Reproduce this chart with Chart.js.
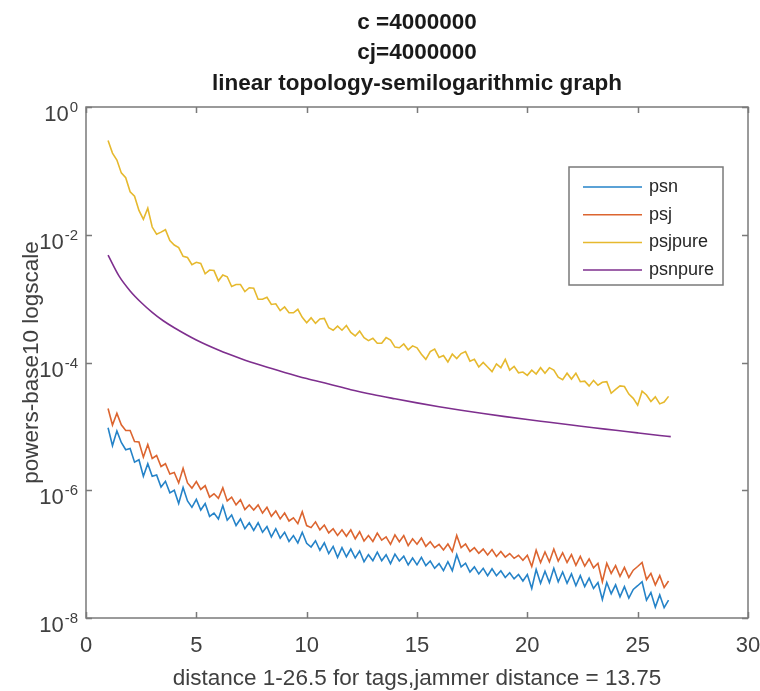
<!DOCTYPE html>
<html>
<head>
<meta charset="utf-8">
<title>linear topology-semilogarithmic graph</title>
<script src="https://cdn.jsdelivr.net/npm/chart.js@4.4.1/dist/chart.umd.min.js"></script>
<style>
  body { margin: 0; background: #fff; }
  canvas { display: block; }
</style>
</head>
<body>
<canvas id="myChart" width="760" height="691"></canvas>
<script>
// distances of the tags (x of the noisy series)
var distances = [
  1, 1.2, 1.4, 1.6, 1.8, 2, 2.2, 2.4, 2.6, 2.8,
  3, 3.2, 3.4, 3.6, 3.8, 4, 4.2, 4.4, 4.6, 4.8,
  5, 5.2, 5.4, 5.6, 5.8, 6, 6.2, 6.4, 6.6, 6.8,
  7, 7.2, 7.4, 7.6, 7.8, 8, 8.2, 8.4, 8.6, 8.8,
  9, 9.2, 9.4, 9.6, 9.8, 10, 10.2, 10.4, 10.6, 10.8,
  11, 11.2, 11.4, 11.6, 11.8, 12, 12.2, 12.4, 12.6, 12.8,
  13, 13.2, 13.4, 13.6, 13.8, 14, 14.2, 14.4, 14.6, 14.8,
  15, 15.2, 15.4, 15.6, 15.8, 16, 16.2, 16.4, 16.6, 16.8,
  17, 17.2, 17.4, 17.6, 17.8, 18, 18.2, 18.4, 18.6, 18.8,
  19, 19.2, 19.4, 19.6, 19.8, 20, 20.2, 20.4, 20.6, 20.8,
  21, 21.2, 21.4, 21.6, 21.8, 22, 22.2, 22.4, 22.6, 22.8,
  23, 23.2, 23.4, 23.6, 23.8, 24, 24.2, 24.4, 24.6, 24.8,
  25, 25.2, 25.4, 25.6, 25.8, 26, 26.2, 26.4
];

var psn = [
  9.5e-6, 5.0e-6, 8.5e-6, 5.6e-6, 4.3e-6, 4.5e-6, 2.75e-6, 3.0e-6, 1.66e-6, 2.6e-6,
  1.66e-6, 1.74e-6, 1.12e-6, 1.38e-6, 9.1e-7, 1.0e-6, 6.2e-7, 1.1e-6, 6.8e-7, 5.4e-7,
  7.2e-7, 4.9e-7, 6.2e-7, 3.9e-7, 4.4e-7, 3.55e-7, 5.75e-7, 3.4e-7, 4.1e-7, 2.8e-7,
  3.55e-7, 2.5e-7, 3.1e-7, 2.35e-7, 3.1e-7, 2.2e-7, 2.7e-7, 1.86e-7, 2.5e-7, 1.78e-7,
  2.2e-7, 1.58e-7, 1.95e-7, 1.5e-7, 2.2e-7, 1.48e-7, 1.29e-7, 1.62e-7, 1.15e-7, 1.5e-7,
  1.02e-7, 1.32e-7, 8.9e-8, 1.26e-7, 9.1e-8, 1.2e-7, 8.7e-8, 1.12e-7, 7.6e-8, 9.8e-8,
  7.9e-8, 1.07e-7, 7.9e-8, 9.8e-8, 7.1e-8, 1.0e-7, 7.8e-8, 9.3e-8, 6.8e-8, 8.7e-8,
  6.8e-8, 8.9e-8, 6.6e-8, 7.8e-8, 6.0e-8, 7.1e-8, 5.5e-8, 7.6e-8, 5.5e-8, 9.8e-8,
  6.3e-8, 7.2e-8, 5.25e-8, 6.3e-8, 4.9e-8, 6.0e-8, 4.6e-8, 5.9e-8, 4.6e-8, 5.5e-8,
  4.3e-8, 5.1e-8, 4.1e-8, 4.8e-8, 3.8e-8, 4.8e-8, 2.9e-8, 5.75e-8, 3.5e-8, 5.4e-8,
  3.6e-8, 6.0e-8, 3.7e-8, 5.25e-8, 3.5e-8, 4.9e-8, 3.2e-8, 4.6e-8, 3.1e-8, 4.2e-8,
  2.9e-8, 3.6e-8, 1.95e-8, 3.6e-8, 2.4e-8, 3.3e-8, 2.15e-8, 3.1e-8, 2.05e-8, 2.8e-8,
  3.2e-8, 3.7e-8, 1.9e-8, 2.5e-8, 1.48e-8, 2.3e-8, 1.45e-8, 1.9e-8
];

var psj = [
  1.9e-5, 1.05e-5, 1.6e-5, 1.06e-5, 8.6e-6, 8.6e-6, 5.8e-6, 5.7e-6, 3.3e-6, 5.2e-6,
  3.15e-6, 3.5e-6, 2.35e-6, 2.6e-6, 1.8e-6, 1.9e-6, 1.3e-6, 2.2e-6, 1.3e-6, 1.08e-6,
  1.37e-6, 1.03e-6, 1.18e-6, 7.8e-7, 8.8e-7, 7.5e-7, 1.09e-6, 6.8e-7, 7.8e-7, 5.9e-7,
  7.1e-7, 5.0e-7, 5.9e-7, 4.9e-7, 5.9e-7, 4.4e-7, 5.4e-7, 3.9e-7, 4.75e-7, 3.56e-7,
  4.4e-7, 3.3e-7, 3.7e-7, 3.0e-7, 4.6e-7, 2.8e-7, 2.6e-7, 3.2e-7, 2.4e-7, 2.85e-7,
  2.15e-7, 2.5e-7, 1.96e-7, 2.4e-7, 1.9e-7, 2.4e-7, 1.74e-7, 2.24e-7, 1.6e-7, 1.96e-7,
  1.58e-7, 2.14e-7, 1.66e-7, 1.86e-7, 1.42e-7, 2.0e-7, 1.56e-7, 1.95e-7, 1.36e-7, 1.74e-7,
  1.43e-7, 1.78e-7, 1.32e-7, 1.56e-7, 1.26e-7, 1.42e-7, 1.16e-7, 1.44e-7, 1.1e-7, 1.96e-7,
  1.26e-7, 1.44e-7, 1.1e-7, 1.26e-7, 1.03e-7, 1.2e-7, 9.7e-8, 1.18e-7, 9.2e-8, 1.1e-7,
  9.0e-8, 1.02e-7, 8.6e-8, 9.6e-8, 8.0e-8, 9.6e-8, 6.4e-8, 1.15e-7, 7.4e-8, 1.08e-7,
  7.6e-8, 1.2e-7, 7.8e-8, 1.05e-7, 7.4e-8, 9.8e-8, 6.7e-8, 9.2e-8, 6.5e-8, 8.4e-8,
  6.1e-8, 7.2e-8, 3.7e-8, 7.2e-8, 5.0e-8, 6.6e-8, 4.5e-8, 6.2e-8, 4.3e-8, 5.6e-8,
  6.4e-8, 7.4e-8, 4.0e-8, 5.0e-8, 3.3e-8, 4.6e-8, 3.0e-8, 3.8e-8
];

var psjpure = [
  0.30, 0.19, 0.148, 0.093, 0.078, 0.047, 0.040, 0.024, 0.0174, 0.026,
  0.0132, 0.0102, 0.011, 0.012, 0.0081, 0.0069, 0.0063, 0.0046, 0.0044, 0.0034,
  0.0037, 0.00355, 0.00245, 0.0028, 0.00275, 0.0019, 0.00235, 0.0022, 0.00155, 0.00166,
  0.00166, 0.00129, 0.00148, 0.00145, 0.00098, 0.00098, 0.00105, 0.00081, 0.00083, 0.00065,
  0.00074, 0.0006, 0.0006, 0.00068, 0.00051, 0.00042, 0.0005, 0.00041, 0.00048, 0.00049,
  0.00035, 0.00032, 0.00037, 0.00032, 0.00038, 0.000295, 0.00026, 0.00031, 0.000245, 0.00022,
  0.00024, 0.0002, 0.0002, 0.000245, 0.000224, 0.000174, 0.00017, 0.000195, 0.000158, 0.000182,
  0.00017, 0.000135, 0.000112, 0.000148, 0.000162, 0.00012, 0.000129, 0.000102, 0.000135, 0.000115,
  0.000138, 0.000148, 0.000105, 0.000112, 8.5e-5, 1.0e-4, 8.5e-5, 7.2e-5, 9.5e-5, 8.3e-5,
  1.12e-4, 7.6e-5, 8.7e-5, 6.9e-5, 7.1e-5, 6.3e-5, 7.6e-5, 6.6e-5, 8.3e-5, 6.8e-5,
  8.3e-5, 7.6e-5, 5.9e-5, 5.4e-5, 6.8e-5, 5.5e-5, 6.8e-5, 5.0e-5, 5.1e-5, 4.3e-5,
  5.25e-5, 4.4e-5, 4.9e-5, 5.0e-5, 3.3e-5, 3.8e-5, 4.3e-5, 4.2e-5, 3.2e-5, 2.75e-5,
  2.15e-5, 3.55e-5, 3.1e-5, 2.45e-5, 2.9e-5, 2.25e-5, 2.4e-5, 2.95e-5
];

// smooth curve, read at fewer distances
var pureDistances = [1, 1.5, 2, 2.5, 3, 3.5, 4, 5, 6, 7, 8, 9, 10, 11, 12, 13, 14, 15,
  16, 17, 18, 19, 20, 21, 22, 23, 24, 25, 26, 26.5];
var psnpure = [4.8e-3, 2.25e-3, 1.32e-3, 8.7e-4, 6.1e-4, 4.5e-4, 3.5e-4, 2.25e-4, 1.57e-4,
  1.16e-4, 8.9e-5, 7.0e-5, 5.6e-5, 4.6e-5, 3.75e-5, 3.15e-5, 2.7e-5, 2.33e-5, 2.03e-5,
  1.79e-5, 1.59e-5, 1.42e-5, 1.28e-5, 1.16e-5, 1.05e-5, 9.5e-6, 8.7e-6, 7.9e-6, 7.2e-6, 6.9e-6];

var xTicks = [0, 5, 10, 15, 20, 25, 30];
var xTickLabels = ['0', '5', '10', '15', '20', '25', '30'];
var yTicks = [1, 1e-2, 1e-4, 1e-6, 1e-8];
var yTickExps = ['0', '-2', '-4', '-6', '-8'];

var titleLines = ['c =4000000', 'cj=4000000', 'linear topology-semilogarithmic graph'];
var xLabel = 'distance 1-26.5 for tags,jammer distance = 13.75';
var yLabel = 'powers-base10 logscale';

var FONT = '"Liberation Sans", Arial, Helvetica, sans-serif';
var AXIS_COLOR = '#7a7a7a';

function pts(xs, ys) {
  return xs.map(function (d, i) { return { x: d, y: ys[i] }; });
}

// MATLAB-like box, inward ticks, labels, titles and legend
var matlabAxes = {
  id: 'matlabAxes',
  afterDraw: function (chart) {
    var ctx = chart.ctx;
    var a = chart.chartArea;
    var x = chart.scales.x;
    var y = chart.scales.y;
    ctx.save();

    ctx.strokeStyle = AXIS_COLOR;
    ctx.lineWidth = 1.5;
    ctx.strokeRect(a.left, a.top, a.right - a.left, a.bottom - a.top);

    ctx.beginPath();
    xTicks.forEach(function (v) {
      var px = Math.round(x.getPixelForValue(v)) + 0.5;
      ctx.moveTo(px, a.bottom); ctx.lineTo(px, a.bottom - 6);
      ctx.moveTo(px, a.top); ctx.lineTo(px, a.top + 6);
    });
    yTicks.forEach(function (v) {
      var py = Math.round(y.getPixelForValue(v)) + 0.5;
      ctx.moveTo(a.left, py); ctx.lineTo(a.left + 6, py);
      ctx.moveTo(a.right, py); ctx.lineTo(a.right - 6, py);
    });
    ctx.stroke();

    // x tick labels
    ctx.fillStyle = '#404040';
    ctx.font = '22px ' + FONT;
    ctx.textAlign = 'center';
    ctx.textBaseline = 'alphabetic';
    xTicks.forEach(function (v, i) {
      ctx.fillText(xTickLabels[i], x.getPixelForValue(v), a.bottom + 34);
    });

    // y tick labels: 10 with a raised exponent
    yTicks.forEach(function (v, i) {
      var py = y.getPixelForValue(v);
      ctx.textAlign = 'right';
      ctx.font = '15px ' + FONT;
      ctx.fillText(yTickExps[i], a.left - 8, py + 5);
      var w = ctx.measureText(yTickExps[i]).width;
      ctx.font = '22px ' + FONT;
      ctx.fillText('10', a.left - 8 - w - 1, py + 14);
    });

    // axis labels
    ctx.textAlign = 'center';
    ctx.font = '22.5px ' + FONT;
    ctx.fillText(xLabel, (a.left + a.right) / 2, 685);
    ctx.save();
    ctx.translate(38, (a.top + a.bottom) / 2);
    ctx.rotate(-Math.PI / 2);
    ctx.fillText(yLabel, 0, 0);
    ctx.restore();

    // title
    ctx.fillStyle = '#1a1a1a';
    ctx.font = 'bold 22.5px ' + FONT;
    var base = [29, 59, 90];
    titleLines.forEach(function (t, i) {
      ctx.fillText(t, (a.left + a.right) / 2, base[i]);
    });

    // legend
    var lx = 569, ly = 167, lw = 154, lh = 118;
    ctx.fillStyle = '#ffffff';
    ctx.fillRect(lx, ly, lw, lh);
    ctx.strokeStyle = AXIS_COLOR;
    ctx.lineWidth = 1.5;
    ctx.strokeRect(lx, ly, lw, lh);
    ctx.font = '18px ' + FONT;
    ctx.textAlign = 'left';
    ctx.textBaseline = 'middle';
    chart.data.datasets.forEach(function (ds, i) {
      var ry = 187 + i * 27.7;
      ctx.strokeStyle = ds.borderColor;
      ctx.lineWidth = 1.5;
      ctx.beginPath();
      ctx.moveTo(583, ry); ctx.lineTo(642, ry);
      ctx.stroke();
      ctx.fillStyle = '#262626';
      ctx.fillText(ds.label, 649, ry);
    });

    ctx.restore();
  }
};

var ctx = document.getElementById('myChart');
var myChart = new Chart(ctx, {
  type: 'line',
  data: {
    datasets: [
      { label: 'psn', data: pts(distances, psn), borderColor: '#2583c8', order: 4 },
      { label: 'psj', data: pts(distances, psj), borderColor: '#dc6530', order: 3 },
      { label: 'psjpure', data: pts(distances, psjpure), borderColor: '#e6b92e', order: 2 },
      { label: 'psnpure', data: pts(pureDistances, psnpure), borderColor: '#7e2f8e', order: 1,
        cubicInterpolationMode: 'monotone' }
    ]
  },
  options: {
    responsive: false,
    devicePixelRatio: 1,
    animation: false,
    layout: { padding: { top: 107, right: 12, left: 0, bottom: 0 } },
    elements: {
      line: { borderWidth: 1.6, tension: 0, fill: false },
      point: { radius: 0 }
    },
    plugins: {
      legend: { display: false },
      title: { display: false },
      tooltip: { enabled: false }
    },
    scales: {
      x: {
        type: 'linear', min: 0, max: 30,
        ticks: { display: false },
        grid: { display: false },
        border: { display: false },
        afterFit: function (s) { s.height = 73; }
      },
      y: {
        type: 'logarithmic', min: 1e-8, max: 1,
        ticks: { display: false },
        grid: { display: false },
        border: { display: false },
        afterFit: function (s) { s.width = 86; }
      }
    }
  },
  plugins: [matlabAxes]
});
</script>
</body>
</html>
